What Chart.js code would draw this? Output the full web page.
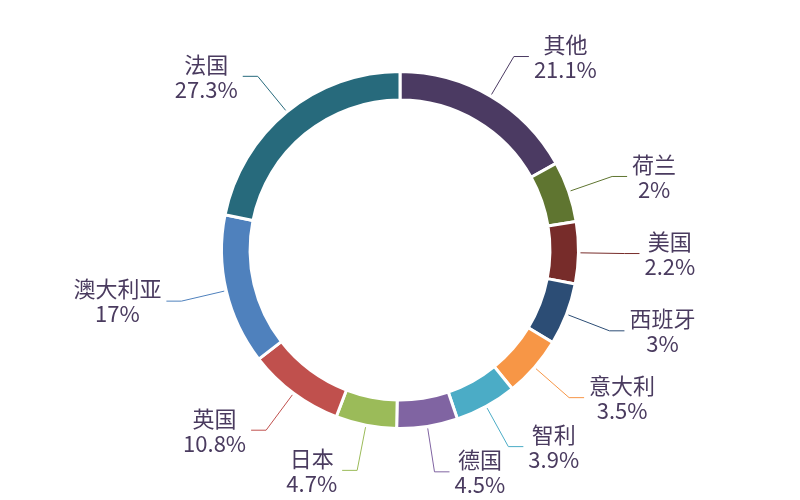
<!DOCTYPE html>
<html>
<head>
<meta charset="utf-8">
<script src="https://cdn.jsdelivr.net/npm/chart.js@4/dist/chart.umd.min.js"></script>
<style>
html,body{margin:0;padding:0;background:#fff;}
#wrap{width:800px;height:500px;position:relative;}
</style>
</head>
<body>
<div id="wrap"><canvas id="c" width="800" height="500"></canvas></div>
<script>
// Categories (clockwise from top)
const categories = ['其他','荷兰','美国','西班牙','意大利','智利','德国','日本','英国','澳大利亚','法国'];
// Percentages printed in the labels
const labelPercents = ['21.1%','2%','2.2%','3%','3.5%','3.9%','4.5%','4.7%','10.8%','17%','27.3%'];
// Slice sizes as drawn in the picture (share of the ring, %)
const sliceSizes = [16.9, 5.5, 5.6, 5.6, 5.5, 5.6, 5.5, 5.5, 8.7, 13.6, 21.8];
const sliceColors = ['#4b3a62','#5f7530','#772c2a','#2c4d75','#f79646','#4bacc6','#8064a2','#9bbb59','#c0504d','#4f81bd','#276a7c'];

const FONT = '"Noto Sans CJK SC", "Noto Sans", sans-serif';
const TEXT_COLOR = '#4a3b5f';

const leaderLabels = {
  id: 'leaderLabels',
  afterDatasetsDraw(chart) {
    const ctx = chart.ctx;
    const meta = chart.getDatasetMeta(0);
    ctx.save();
    meta.data.forEach((arc, i) => {
      const p = arc.getProps(['x','y','startAngle','endAngle','outerRadius'], true);
      const mid = (p.startAngle + p.endAngle) / 2;
      const c = Math.cos(mid), s = Math.sin(mid);
      const r0 = p.outerRadius + 2, r1 = p.outerRadius + 46;
      const x0 = p.x + c * r0, y0 = p.y + s * r0;
      const x1 = p.x + c * r1, y1 = p.y + s * r1;
      const right = c >= 0;
      const x2 = x1 + (right ? 15 : -15);
      ctx.strokeStyle = sliceColors[i];
      ctx.lineWidth = 1;
      ctx.beginPath();
      ctx.moveTo(x0, y0);
      ctx.lineTo(x1, y1);
      ctx.lineTo(x2, y1);
      ctx.stroke();

      ctx.font = '22px ' + FONT;
      ctx.fillStyle = TEXT_COLOR;
      ctx.textAlign = 'center';
      ctx.textBaseline = 'middle';
      const w = Math.max(ctx.measureText(categories[i]).width, ctx.measureText(labelPercents[i]).width);
      const cx = right ? x2 + 5 + w / 2 : x2 - 5 - w / 2;
      ctx.fillText(categories[i], cx, y1 - 12);
      ctx.fillText(labelPercents[i], cx, y1 + 13);
    });
    ctx.restore();
  }
};

new Chart(document.getElementById('c'), {
  type: 'doughnut',
  data: {
    labels: categories,
    datasets: [{
      data: sliceSizes,
      backgroundColor: sliceColors,
      borderColor: '#ffffff',
      borderWidth: 3,
      hoverOffset: 0
    }]
  },
  options: {
    responsive: false,
    animation: false,
    cutout: '84%',
    layout: { padding: { top: 70, bottom: 70, left: 0, right: 0 } },
    plugins: {
      legend: { display: false },
      tooltip: { enabled: false }
    }
  },
  plugins: [leaderLabels]
});
</script>
</body>
</html>
